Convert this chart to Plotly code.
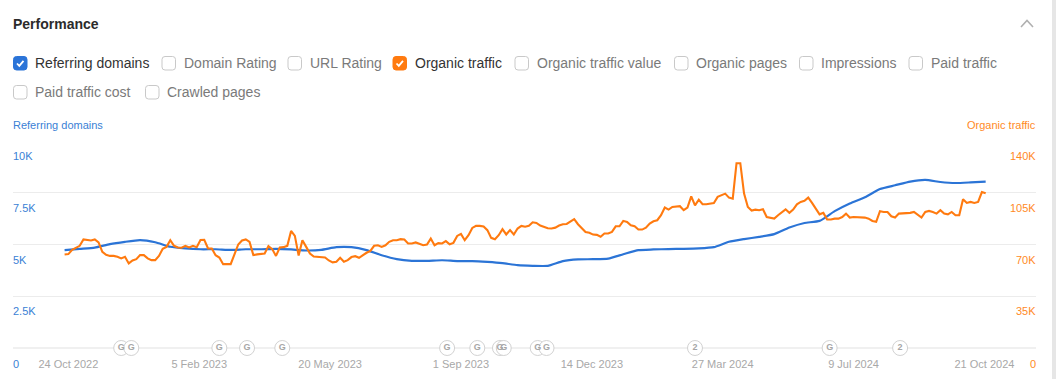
import pandas as pd
import plotly.graph_objects as go

W, H = 1056, 379
L, R, T, B = 13, 20, 141, 31

# ---------- data ----------
organic_start = "2022-10-21"   # one reading every 3 days
organic_traffic_k = [
    63.2, 63.5, 66.4, 67.5, 69.1, 73.4, 73.2, 72.7, 73.4, 71.4, 65.0, 63.0, 62.3, 62.3, 61.7, 60.6,
    61.7, 57.2, 59.2, 60.1, 62.8, 62.8, 60.6, 59.4, 59.4, 62.3, 67.1, 68.4, 72.9, 69.1, 68.0, 67.8,
    69.1, 68.0, 69.1, 68.2, 73.0, 73.2, 67.3, 67.3, 62.8, 61.2, 56.7, 56.5, 56.7, 63.3, 70.0, 72.7,
    73.4, 71.8, 62.8, 63.3, 63.5, 63.9, 68.9, 66.9, 62.3, 68.0, 68.2, 69.1, 79.2, 75.8, 62.5, 72.9,
    68.4, 63.9, 61.9, 61.7, 61.9, 61.2, 59.2, 57.9, 58.3, 61.0, 58.3, 59.4, 61.5, 62.1, 61.0, 62.8,
    64.4, 65.7, 69.1, 69.5, 68.4, 69.5, 71.8, 72.9, 72.9, 73.6, 73.4, 70.7, 70.7, 71.4, 70.7, 69.5,
    70.0, 74.0, 69.5, 70.9, 70.7, 72.3, 70.2, 71.1, 75.8, 77.2, 72.9, 76.3, 81.2, 82.6, 82.6, 82.2,
    79.7, 74.5, 73.6, 76.3, 80.4, 76.8, 79.7, 76.8, 80.8, 82.6, 82.0, 82.6, 85.0, 84.6, 82.8, 81.9,
    81.0, 80.8, 81.4, 82.8, 83.7, 83.9, 85.7, 87.1, 83.7, 80.8, 78.5, 77.9, 76.7, 76.5, 75.2, 77.4,
    77.4, 78.5, 82.3, 82.3, 86.0, 85.3, 83.0, 82.3, 80.1, 80.1, 81.4, 84.2, 85.7, 86.4, 89.8, 95.0,
    93.6, 95.4, 95.4, 95.9, 93.2, 95.0, 102.6, 96.5, 100.3, 97.2, 97.2, 97.6, 98.1, 102.2, 103.3,
    104.4, 101.7, 101.0, 125.0, 125.0, 104.4, 95.4, 93.0, 93.6, 93.2, 93.8, 88.6, 88.2, 87.5, 89.8,
    92.0, 93.8, 91.4, 93.6, 97.2, 98.8, 99.5, 101.7, 98.1, 93.8, 90.4, 91.4, 86.9, 86.9, 87.5, 87.5,
    88.6, 90.9, 88.2, 88.6, 88.6, 88.6, 88.2, 87.5, 85.9, 85.3, 92.5, 92.0, 92.0, 89.1, 88.2, 90.9,
    90.9, 90.9, 91.4, 92.0, 89.8, 88.2, 92.0, 92.7, 92.0, 90.9, 93.2, 90.9, 90.4, 92.0, 89.8, 89.8,
    100.6, 98.1, 98.8, 98.1, 98.8, 105.5, 104.6,
]

domains_start = "2022-10-21"   # one reading every 12 days
referring_domains_k = [
    4.73, 4.79, 4.85, 5.02, 5.13, 5.21, 5.11, 4.89, 4.81, 4.77, 4.77, 4.74, 4.77, 4.77, 4.79, 4.76,
    4.71, 4.74, 4.87, 4.87, 4.73, 4.48, 4.29, 4.21, 4.21, 4.24, 4.20, 4.20, 4.16, 4.10, 4.00, 3.97,
    3.97, 4.20, 4.28, 4.29, 4.32, 4.53, 4.73, 4.76, 4.78, 4.79, 4.81, 4.87, 5.13, 5.26, 5.37, 5.50,
    5.82, 6.04, 6.14, 6.61, 6.98, 7.28, 7.68, 7.86, 8.04, 8.12, 8.02, 7.97, 8.00, 8.04,
]

x_tick_dates = ["2022-10-24", "2023-02-05", "2023-05-20", "2023-09-01",
                "2023-12-14", "2024-03-27", "2024-07-09", "2024-10-21"]
x_tick_labels = ["24 Oct 2022", "5 Feb 2023", "20 May 2023", "1 Sep 2023",
                 "14 Dec 2023", "27 Mar 2024", "9 Jul 2024", "21 Oct 2024"]

left_ticks = [0, 2.5, 5, 7.5, 10]
left_tick_labels = ["0", "2.5K", "5K", "7.5K", "10K"]
right_ticks = [0, 35, 70, 105, 140]
right_tick_labels = ["0", "35K", "70K", "105K", "140K"]

flag_dates = ["2022-12-05", "2022-12-13", "2023-02-21", "2023-03-15", "2023-04-12", "2023-08-21",
              "2023-09-14", "2023-10-02", "2023-10-05", "2023-11-01", "2023-11-08", "2024-03-05",
              "2024-06-20", "2024-08-15"]
flag_labels = ["G", "G", "G", "G", "G", "G", "G", "G", "G", "G", "G", "2", "G", "2"]

row1 = ["Referring domains", "Domain Rating", "URL Rating", "Organic traffic",
        "Organic traffic value", "Organic pages", "Impressions", "Paid traffic"]
row2 = ["Paid traffic cost", "Crawled pages"]
checked = {"Referring domains": "#2b74d8", "Organic traffic": "#ff7a0f"}

# ---------- styles ----------
BLUE, ORANGE = "#2b74d6", "#ff7a0f"
FONT = "Liberation Sans, Arial, sans-serif"
GRID = "#ececec"

def px(x):
    return (x - L) / (W - L - R)

def py(y):
    return (H - B - y) / (H - T - B)

fig = go.Figure()
fig.add_trace(go.Scatter(
    x=pd.date_range(domains_start, periods=len(referring_domains_k), freq="12D"),
    y=referring_domains_k, mode="lines", name="Referring domains", yaxis="y",
    line=dict(color=BLUE, width=2.2, shape="spline", smoothing=0.5), showlegend=False))
fig.add_trace(go.Scatter(
    x=pd.date_range(organic_start, periods=len(organic_traffic_k), freq="3D"),
    y=organic_traffic_k, mode="lines", name="Organic traffic", yaxis="y2",
    line=dict(color=ORANGE, width=2.1), showlegend=False))
fig.add_trace(go.Scatter(
    x=pd.to_datetime(flag_dates), y=[0] * len(flag_dates), mode="markers+text", yaxis="y",
    text=flag_labels, textposition="middle center", cliponaxis=False, showlegend=False,
    textfont=dict(family=FONT, size=9, color="#a6a6a6", weight="bold"),
    marker=dict(size=15, color="white", line=dict(color="#d2d2d2", width=1))))

annotations, shapes = [], []

def text(x, y, s, color, size=14, anchor="left", bold=False):
    annotations.append(dict(
        x=px(x), y=py(y), xref="paper", yref="paper", text=f"<b>{s}</b>" if bold else s,
        showarrow=False, xanchor=anchor, yanchor="middle", align=anchor,
        xshift=0, yshift=0, borderpad=0, borderwidth=0,
        font=dict(family=FONT, size=size, color=color)))

text(13, 24, "Performance", "#2b2b2b", 14, bold=True)
text(13, 125.5, "Referring domains", "#3a7fd5", 11)
text(1036, 125.5, "Organic traffic", "#ff8a1f", 11, "right")

def checkbox(x0, y0, label):
    x1, y1, r = x0 + 13.5, y0 + 13.5, 3
    path = (f"M{px(x0 + r)},{py(y0)} L{px(x1 - r)},{py(y0)} Q{px(x1)},{py(y0)} {px(x1)},{py(y0 + r)} "
            f"L{px(x1)},{py(y1 - r)} Q{px(x1)},{py(y1)} {px(x1 - r)},{py(y1)} "
            f"L{px(x0 + r)},{py(y1)} Q{px(x0)},{py(y1)} {px(x0)},{py(y1 - r)} "
            f"L{px(x0)},{py(y0 + r)} Q{px(x0)},{py(y0)} {px(x0 + r)},{py(y0)} Z")
    on = checked.get(label)
    shapes.append(dict(type="path", xref="paper", yref="paper", path=path,
                       fillcolor=on or "white", line=dict(color=on or "#c9c9c9", width=1)))
    if on:
        tick = (f"M{px(x0 + 3.5)},{py(y0 + 7)} L{px(x0 + 5.8)},{py(y0 + 9.4)} "
                f"L{px(x0 + 10)},{py(y0 + 4.4)}")
        shapes.append(dict(type="path", xref="paper", yref="paper", path=tick,
                           line=dict(color="white", width=1.8)))
    text(x0 + 21.5, y0 + 6.5, label, "#333333" if on else "#7a7a7a", 14)

for lab, x0 in zip(row1, [13.5, 162, 288, 393, 515, 674.5, 799.5, 909]):
    checkbox(x0, 56.5, lab)
for lab, x0 in zip(row2, [13.5, 145.5]):
    checkbox(x0, 85.5, lab)

# collapse chevron
chev = f"M{px(1021)},{py(27)} L{px(1027)},{py(20.5)} L{px(1033)},{py(27)}"
shapes.append(dict(type="path", xref="paper", yref="paper", path=chev,
                   line=dict(color="#b0b0b0", width=1.6)))
# page scrollbar strip
shapes.append(dict(type="rect", xref="paper", yref="paper", x0=px(1052), x1=px(1056),
                   y0=py(0), y1=py(379), fillcolor="#e6e6e6", line=dict(width=0)))

# value labels sit just below their gridlines
for v, s in zip(left_ticks, left_tick_labels):
    annotations.append(dict(x=0, xref="paper", y=v, yref="y", text=s, showarrow=False, xanchor="left",
                            yanchor="middle", xshift=-1, yshift=-16 if v == 0 else -15, borderpad=0,
                            font=dict(family=FONT, size=11, color="#3a7fd5")))
for v, s in zip(right_ticks, right_tick_labels):
    annotations.append(dict(x=1, xref="paper", y=v, yref="y2", text=s, showarrow=False, xanchor="right",
                            yanchor="middle", xshift=1, yshift=-16 if v == 0 else -15, borderpad=0,
                            font=dict(family=FONT, size=11, color="#ff8a1f")))

fig.update_layout(
    width=W, height=H, margin=dict(l=L, r=R, t=T, b=B, autoexpand=False),
    paper_bgcolor="white", plot_bgcolor="white", showlegend=False,
    font=dict(family=FONT), annotations=annotations, shapes=shapes,
    xaxis=dict(type="date", range=["2022-09-10", "2024-12-01"], tickmode="array",
               tickvals=x_tick_dates, ticktext=x_tick_labels, showgrid=False, zeroline=False,
               showline=False, ticks="outside", ticklen=6, tickcolor="rgba(0,0,0,0)",
               tickfont=dict(family=FONT, size=11, color="#a8a8a8")),
    yaxis=dict(range=[0, 10], tickmode="array", tickvals=left_ticks, showticklabels=False,
               gridcolor=GRID, gridwidth=1, zeroline=True, zerolinecolor="#f0f0f0", zerolinewidth=2,
               showline=False, ticks=""),
    yaxis2=dict(range=[0, 140], overlaying="y", side="right", tickmode="array", tickvals=right_ticks,
                showticklabels=False, showgrid=False, zeroline=False, showline=False, ticks=""),
)

fig.write_html("out.html", config={"displayModeBar": False},
               post_script="document.body.style.margin='0';document.documentElement.style.overflow='hidden';")
